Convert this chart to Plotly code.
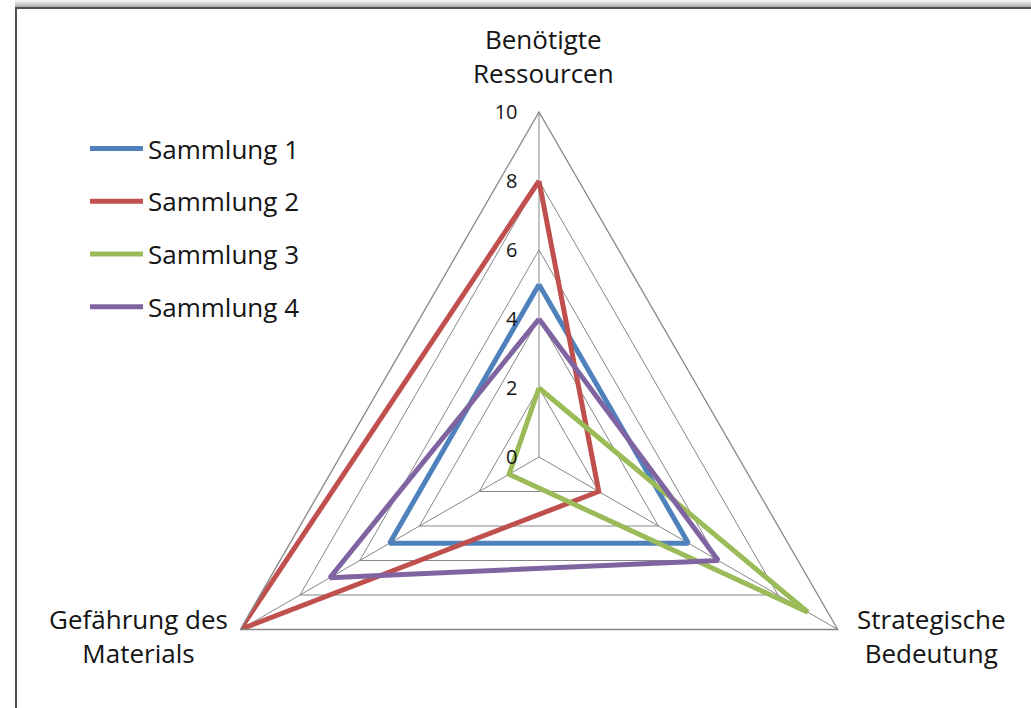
import plotly.graph_objects as go

# Radar chart: four collections rated on three criteria (scale 0-10)
categories = ["Benötigte<br>Ressourcen", "Strategische<br>Bedeutung", "Gefährung des<br>Materials"]
series_names = ["Sammlung 1", "Sammlung 2", "Sammlung 3", "Sammlung 4"]
sammlung_1 = [5, 5, 5]
sammlung_2 = [8, 2, 10]
sammlung_3 = [2, 9, 1]
sammlung_4 = [4, 6, 7]
radial_ticks = [0, 2, 4, 6, 8, 10]

colors = ["#4F81BD", "#C0504D", "#9BBB59", "#8064A2"]

W, H = 1031, 830
FONT = "Open Sans"
TEXT = "#141414"
GRID = "#868686"

fig = go.Figure()
for name, vals, col in zip(series_names, [sammlung_1, sammlung_2, sammlung_3, sammlung_4], colors):
    fig.add_trace(go.Scatterpolar(
        r=vals + vals[:1],
        theta=categories + categories[:1],
        mode="lines",
        name=name,
        legendgroup=name,
        line=dict(color=col, width=5),
        hoverinfo="skip",
    ))


def px_x(x):
    return x / W


def px_y(y):
    return 1 - y / H


cx, cy, rad = 539, 457, 345

# window frame: grey title band and dark border lines
shapes = []
band = ["#f4f4f4", "#ececec", "#e2e2e2", "#d6d6d6", "#c9c9c9", "#bcbcbc", "#aeaeae"]
for i, c in enumerate(band):
    shapes.append(dict(type="rect", xref="paper", yref="paper",
                       x0=px_x(15), x1=1, y0=px_y(i + 1), y1=px_y(i),
                       line=dict(width=0), fillcolor=c, layer="below"))
shapes.append(dict(type="line", xref="paper", yref="paper",
                   x0=px_x(15), x1=1, y0=px_y(8), y1=px_y(8),
                   line=dict(color="#505050", width=2)))
shapes.append(dict(type="line", xref="paper", yref="paper",
                   x0=px_x(16), x1=px_x(16), y0=px_y(7), y1=0,
                   line=dict(color="#505050", width=2)))

# category labels placed around the triangle corners, centred like the source chart
label_pos = [(543, 56), (931, 636), (138, 636)]
annotations = []
for text, (lx, ly) in zip(categories, label_pos):
    annotations.append(dict(
        text=text, xref="paper", yref="paper", x=px_x(lx), y=px_y(ly),
        xanchor="center", yanchor="middle", align="center", showarrow=False,
        font=dict(size=26, family=FONT, color=TEXT),
    ))

fig.update_layout(
    width=W, height=H,
    margin=dict(l=0, r=0, t=0, b=0),
    paper_bgcolor="white",
    font=dict(family=FONT, color=TEXT, size=26),
    shapes=shapes,
    annotations=annotations,
    polar=dict(
        domain=dict(x=[(cx - rad) / W, (cx + rad) / W],
                    y=[1 - (cy + rad) / H, 1 - (cy - rad) / H]),
        bgcolor="white",
        gridshape="linear",
        radialaxis=dict(
            range=[0, 10], tickvals=radial_ticks, ticktext=[str(v) for v in radial_ticks],
            angle=90, side="counterclockwise", showline=False,
            ticks="outside", ticklen=14, tickcolor="rgba(0,0,0,0)", tickangle=90,
            gridcolor=GRID, gridwidth=1.3,
            tickfont=dict(size=20, family=FONT, color=TEXT),
        ),
        angularaxis=dict(
            direction="clockwise", rotation=90,
            showline=True, linecolor=GRID, linewidth=1.3,
            gridcolor=GRID, gridwidth=1.3, ticks="", showticklabels=False,
        ),
    ),
    legend=dict(
        x=px_x(85), y=px_y(125), xanchor="left", yanchor="top",
        font=dict(size=26, family=FONT, color=TEXT),
        itemwidth=53,
        tracegroupgap=16, bgcolor="rgba(0,0,0,0)",
    ),
)

fig.write_html("out.html")
